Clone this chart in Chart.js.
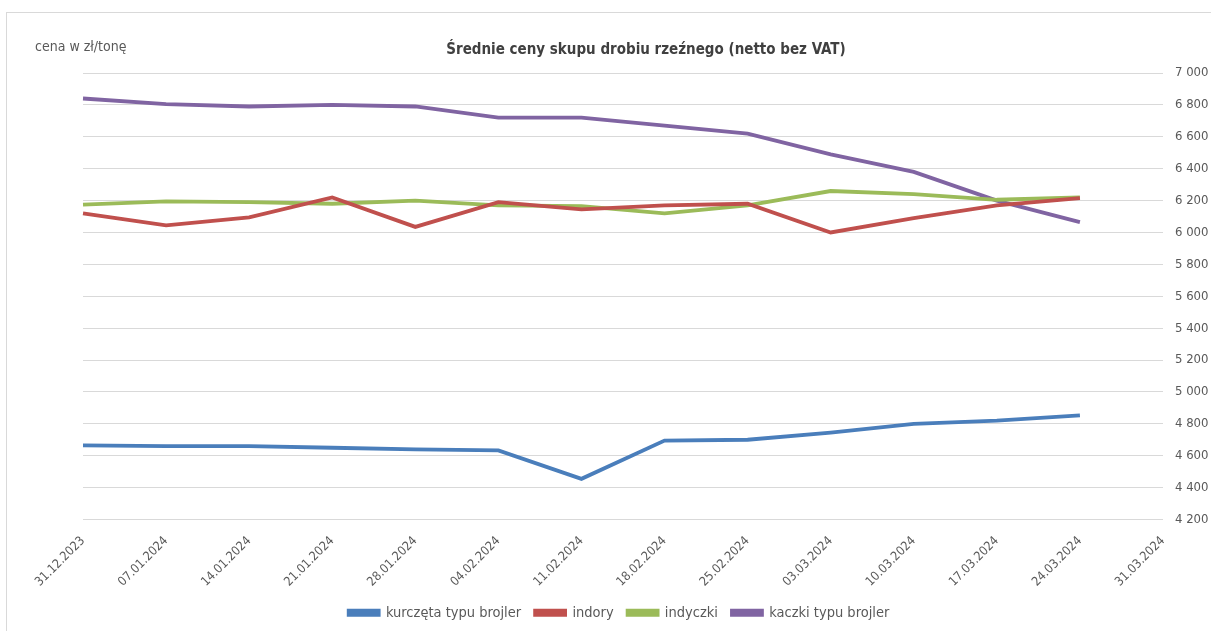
<!DOCTYPE html>
<html>
<head>
<meta charset="utf-8">
<script src="https://cdn.jsdelivr.net/npm/chart.js@4"></script>
<style>
  html, body { margin: 0; padding: 0; background: #fff; overflow: hidden; }
  #frame { position: absolute; left: 6px; top: 12px; width: 1300px; height: 700px; border: 1px solid #d9d9d9; }
  #wrap { position: absolute; left: 0; top: 0; width: 1211px; height: 631px; }
</style>
</head>
<body>
<div id="frame"></div>
<div id="wrap"><canvas id="myChart" width="1211" height="631"></canvas></div>
<script>
const dates = ['31.12.2023', '07.01.2024', '14.01.2024', '21.01.2024', '28.01.2024', '04.02.2024', '11.02.2024',
  '18.02.2024', '25.02.2024', '03.03.2024', '10.03.2024', '17.03.2024', '24.03.2024', '31.03.2024'];

const kurczeta = [4665, 4660, 4660, 4650, 4640, 4633, 4455, 4695, 4700, 4745, 4800, 4820, 4853, null];
const indory = [6120, 6045, 6095, 6220, 6035, 6190, 6145, 6170, 6180, 6000, 6090, 6170, 6215, null];
const indyczki = [6175, 6195, 6190, 6180, 6200, 6170, 6165, 6120, 6170, 6260, 6240, 6205, 6220, null];
const kaczki = [6840, 6805, 6790, 6800, 6790, 6720, 6720, 6670, 6620, 6490, 6380, 6200, 6065, null];

const font = "'Liberation Sans Narrow', 'DejaVu Sans Condensed', sans-serif";
const grey = '#595959';

const makeSet = (label, data, color) => ({
  label: label,
  data: data,
  borderColor: color,
  backgroundColor: color,
  borderWidth: 3.8,
  pointRadius: 0,
  tension: 0,
  spanGaps: false,
});

const texts = {
  id: 'texts',
  afterLayout(chart) {
    // legend in the original sits a bit left of the canvas centre
    chart.legend.left -= 28;
    chart.legend.right -= 28;
  },
  afterDraw(chart) {
    const ctx = chart.ctx;
    ctx.save();
    ctx.fillStyle = '#404040';
    ctx.font = 'bold 15px ' + font;
    ctx.textAlign = 'center';
    ctx.textBaseline = 'middle';
    ctx.fillText('Średnie ceny skupu drobiu rzeźnego (netto bez VAT)', 646, 50);
    ctx.fillStyle = grey;
    ctx.font = '14px ' + font;
    ctx.textAlign = 'left';
    ctx.fillText('cena w zł/tonę', 35, 47);
    ctx.restore();
  }
};

const ctx = document.getElementById('myChart').getContext('2d');
const chart = new Chart(ctx, {
  type: 'line',
  data: {
    labels: dates,
    datasets: [
      makeSet('kurczęta typu brojler', kurczeta, '#4a7ebb'),
      makeSet('indory', indory, '#c0504d'),
      makeSet('indyczki', indyczki, '#9bbb59'),
      makeSet('kaczki typu brojler', kaczki, '#8064a2'),
    ]
  },
  options: {
    responsive: false,
    animation: false,
    devicePixelRatio: 1,
    layout: { padding: { left: 83, top: 73, right: 0, bottom: 1 } },
    scales: {
      x: {
        grid: { display: false },
        border: { display: false },
        ticks: {
          color: grey,
          padding: 6,
          font: { family: font, size: 12.5 },
          minRotation: 45,
          maxRotation: 45,
          autoSkip: false,
        },
        afterFit: (scale) => { scale.height = 72; },
      },
      y: {
        position: 'right',
        min: 4200,
        max: 7000,
        grid: { color: '#d9d9d9', lineWidth: 1, drawTicks: false },
        border: { display: false },
        ticks: {
          stepSize: 200,
          color: grey,
          padding: 12,
          font: { family: font, size: 13 },
          callback: (v) => String(v).replace(/\B(?=(\d{3})+(?!\d))/g, ' '),
        },
        afterFit: (scale) => { scale.width = 48; },
      }
    },
    plugins: {
      legend: {
        position: 'bottom',
        labels: {
          color: grey,
          font: { family: font, size: 14.5 },
          boxWidth: 30,
          boxHeight: 4,
          padding: 14,
        }
      },
      tooltip: { enabled: false },
    }
  },
  plugins: [texts]
});
</script>
</body>
</html>
